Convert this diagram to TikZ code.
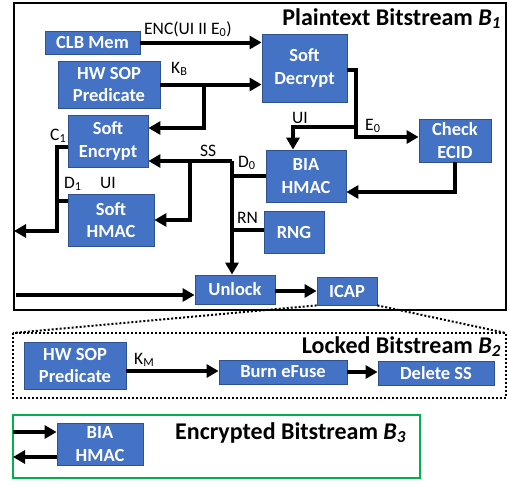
\documentclass[tikz,border=0pt]{standalone}
\usepackage{fontspec}
\setmainfont{Carlito}
\usetikzlibrary{arrows.meta}
\definecolor{blkfill}{HTML}{4472C4}
\definecolor{blkline}{HTML}{2F528F}
\definecolor{grn}{HTML}{00B050}
\begin{document}
\begin{tikzpicture}[x=1pt,y=-1pt,
  blk/.style={draw=blkline, line width=0.8pt, fill=blkfill, text=white,
    font=\fontsize{18.5}{22.5}\selectfont\bfseries, align=center, inner sep=0pt},
  lbl/.style={font=\fontsize{17.5}{20}\selectfont, anchor=base west, inner sep=0pt},
  ttl/.style={font=\fontsize{24}{28}\selectfont\bfseries, inner sep=0pt},
  thk/.style={line width=4pt},
  arr/.style={thk, -{Triangle[length=12pt,width=13pt]}},
  frame/.style={line width=2.5pt},
]
\useasboundingbox (0,0) rectangle (508,483);
% frames
\draw[frame] (14,3) rectangle (506,310);
\draw[line width=2pt, dotted] (13,333) rectangle (506,398);
\draw[frame, draw=grn] (13,415) rectangle (420,478);
% titles
\node[ttl, anchor=base east] (t1) at (501,25) {Plaintext Bitstream \textit{B}\textsubscript{\textit{1}}};
\node[ttl, anchor=base east] (t2) at (501,353) {Locked Bitstream \textit{B}\textsubscript{\textit{2}}};
\node[ttl, anchor=base west] (t3) at (175,439) {Encrypted Bitstream \textit{B}\textsubscript{\textit{3}}};
% blocks
\node[blk, minimum width=95pt, minimum height=23pt] (clb) at (92.5,42.5) {CLB Mem};
\node[blk, minimum width=102pt, minimum height=47pt] (hw) at (109,84.5) {HW SOP\\Predicate};
\node[blk, minimum width=80pt, minimum height=52pt] (senc) at (108,141) {Soft\\Encrypt};
\node[blk, minimum width=85pt, minimum height=68pt] (sdec) at (304.5,68) {Soft\\Decrypt};
\node[blk, minimum width=72pt, minimum height=43pt] (ecid) at (455,140.5) {Check\\ECID};
\node[blk, minimum width=80pt, minimum height=52pt] (bia) at (306,176) {BIA\\HMAC};
\node[blk, minimum width=60pt, minimum height=42pt] (rng) at (294,232) {RNG};
\node[blk, minimum width=86pt, minimum height=52pt] (shmac) at (111,220) {Soft\\HMAC};
\node[blk, minimum width=80pt, minimum height=29pt] (unlock) at (235,289.5) {Unlock};
\node[blk, minimum width=60pt, minimum height=28pt] (icap) at (347,291) {ICAP};
\node[blk, minimum width=102pt, minimum height=47pt] (hw2) at (75,365.5) {HW SOP\\Predicate};
\node[blk, minimum width=128pt, minimum height=24pt] (burn) at (283,372) {Burn eFuse};
\node[blk, minimum width=116pt, minimum height=24pt] (del) at (436,373) {Delete SS};
\node[blk, minimum width=86pt, minimum height=42pt] (bia3) at (100,444) {BIA\\HMAC};
% helper coordinates
\coordinate (kb) at (204,84.5);
\coordinate (dj) at (356,137);
\coordinate (uij) at (356,127);
\coordinate (ssj) at (232,161);
\coordinate (shj) at (190,161);
\coordinate (lv) at (57,231);
\coordinate (lout) at (14,231);
\coordinate (bin) at (16,295);
\coordinate (e3in) at (13,432);
\coordinate (e3out) at (13,457);
\coordinate (cl) at (13,333);
\coordinate (cr) at (506,333);
% connectors
\draw[arr] (clb.east) -- (clb.east -| sdec.west);
\draw[arr] (hw.east) -- (hw.east -| sdec.west);
\draw[arr] (kb) |- (senc.east |- 0,128);
\draw[arr] (sdec.east |- 0,70) -| (dj) -- (ecid.west |- dj);
\draw[arr] (uij) -| (bia.north -| 293,0);
\draw[arr] (ecid.south) |- (bia.east |- 0,192);
\draw[arr] (ssj) -- (senc.east |- ssj);
\draw[arr] (ssj) -- (unlock.north -| ssj);
\draw[arr] (shj) |- (shmac.east);
\draw[thk] (ssj |- 0,176) -- (bia.west |- 0,176);
\draw[thk] (ssj |- 0,230) -- (rng.west |- 0,230);
\draw[arr] (senc.west |- 0,147) -| (lv) -- (lout);
\draw[thk] (shmac.west |- 0,201) -- (lv |- 0,201);
\draw[arr] (bin) -- (unlock.west |- bin);
\draw[arr] (unlock.east |- 0,291) -- (icap.west |- 0,291);
\draw[arr] (hw2.east |- 0,371) -- (burn.west |- 0,371);
\draw[arr] (burn.east) -- (del.west |- burn.east);
\draw[arr] (e3in) -- (bia3.west |- e3in);
\draw[arr] (bia3.west |- e3out) -- (e3out);
\draw[line width=2pt, dotted] (icap.south west) -- (cl);
\draw[line width=2pt, dotted] (icap.south east) -- (cr);
% labels
\node[lbl] (l1) at (144,34) {ENC(UI II E\textsubscript{0})};
\node[lbl] (l2) at (171,73) {K\textsubscript{B}};
\node[lbl] (l3) at (50,140) {C\textsubscript{1}};
\node[lbl] (l4) at (200,156) {SS};
\node[lbl] (l5) at (238,167) {D\textsubscript{0}};
\node[lbl] (l6) at (64,188) {D\textsubscript{1}};
\node[lbl] (l7) at (100,188) {UI};
\node[lbl] (l8) at (237,223) {RN};
\node[lbl] (l9) at (292,123) {UI};
\node[lbl] (l10) at (365,130) {E\textsubscript{0}};
\node[lbl] (l11) at (134,364) {K\textsubscript{M}};
\end{tikzpicture}
\end{document}
